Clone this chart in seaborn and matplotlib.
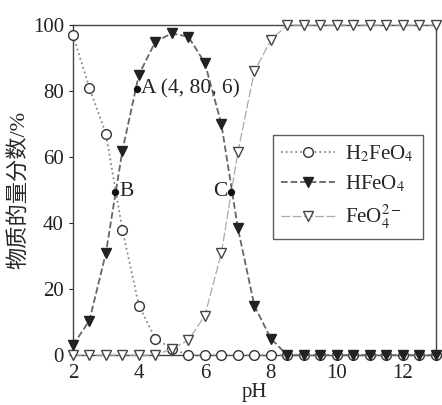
import numpy as np
import pandas as pd
import matplotlib
matplotlib.use("Agg")
import matplotlib.pyplot as plt
import seaborn as sns

# pH points every 0.5
ph = [2, 2.5, 3, 3.5, 4, 4.5, 5, 5.5, 6, 6.5, 7, 7.5, 8, 8.5,
      9, 9.5, 10, 10.5, 11, 11.5, 12, 12.5, 13]
h2feo4 = [97, 81, 67, 38, 15, 5, 2, 0, 0, 0, 0, 0, 0, 0,
          0, 0, 0, 0, 0, 0, 0, 0, 0]
hfeo4 = [3, 10.5, 31, 62, 85, 95, 97.5, 96.5, 88.5, 70, 38.5, 15, 5, 0,
         0, 0, 0, 0, 0, 0, 0, 0, 0]
feo4 = [0, 0, 0, 0, 0, 0, 2, 4.5, 12, 31, 61.5, 86, 95.5, 100,
        100, 100, 100, 100, 100, 100, 100, 100, 100]

# marked points A, B, C
pt_names = ["A", "B", "C"]
pt_x = [3.95, 3.27, 6.8]
pt_y = [80.6, 49.5, 49.5]

sns.set_style("ticks")
plt.rcParams['font.family'] = ['Liberation Serif', 'Noto Sans CJK SC']
plt.rcParams['mathtext.fontset'] = 'stix'

fig = plt.figure(figsize=(4.42, 4.05), dpi=100)
ax = fig.add_axes([0.165, 0.123, 0.821, 0.815])

df = pd.DataFrame({"pH": ph, "h2": h2feo4, "h1": hfeo4, "h0": feo4})

sns.lineplot(data=df, x="pH", y="h2", ax=ax, color="#888888", linestyle=":",
             linewidth=1.3, marker="o", markersize=7, markerfacecolor="white",
             markeredgecolor="#333333", markeredgewidth=1.0, clip_on=False,
             label=r"H$_2$FeO$_4$", zorder=3)
sns.lineplot(data=df, x="pH", y="h1", ax=ax, color="#666666", linestyle="--",
             linewidth=1.3, marker="v", markersize=7, markerfacecolor="#222222",
             markeredgecolor="#222222", markeredgewidth=1.0, clip_on=False,
             label=r"HFeO$_4$", zorder=4)
sns.lineplot(data=df, x="pH", y="h0", ax=ax, color="#aaaaaa", linestyle=(0, (7, 2)),
             linewidth=0.9, marker="v", markersize=7, markerfacecolor="white",
             markeredgecolor="#444444", markeredgewidth=1.0, clip_on=False,
             label=r"FeO$_4^{2-}$", zorder=3)

ax.scatter(pt_x, pt_y, s=18, color="#111111", zorder=5)
ax.text(4.05, 80.6, "A (4, 80, 6)", fontsize=15.5, va="center", ha="left", color="#222222")
ax.text(3.42, 49.5, "B", fontsize=15.5, va="center", ha="left", color="#222222")
ax.text(6.68, 49.5, "C", fontsize=15.5, va="center", ha="right", color="#222222")

ax.set_xlim(2, 13)
ax.set_ylim(0, 100)
ax.set_xticks([2, 4, 6, 8, 10, 12])
ax.set_yticks([0, 20, 40, 60, 80, 100])
ax.tick_params(labelsize=15, colors="#222222", length=3, width=0.8)
for s in ax.spines.values():
    s.set_visible(True)
    s.set_color("#444444")
    s.set_linewidth(1.0)

ax.set_xlabel("pH", fontsize=15, labelpad=0)
ax.set_ylabel("物质的量分数/%", fontsize=16, labelpad=2)

leg = ax.legend(loc="upper left", bbox_to_anchor=(0.55, 0.667), fontsize=15,
                frameon=True, fancybox=False, edgecolor="#333333",
                handlelength=2.6, handletextpad=0.5, borderpad=0.4,
                labelspacing=0.45, borderaxespad=0)
leg.get_frame().set_linewidth(1.0)

fig.savefig("out.png", dpi=100)
